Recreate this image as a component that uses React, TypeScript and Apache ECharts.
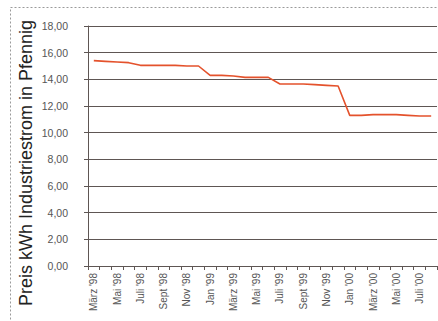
import React, { useEffect, useRef } from "react";
import * as echarts from "echarts";

const months = [
  "März '98", "Apr '98", "Mai '98", "Juni '98", "Juli '98", "Aug '98", "Sept '98", "Okt '98", "Nov '98", "Dez '98",
  "Jan '99", "Feb '99", "März '99", "Apr '99", "Mai '99", "Juni '99", "Juli '99", "Aug '99", "Sept '99", "Okt '99", "Nov '99", "Dez '99",
  "Jan '00", "Feb '00", "März '00", "Apr '00", "Mai '00", "Juni '00", "Juli '00", "Aug '00",
];
const prices = [
  15.4, 15.35, 15.3, 15.25, 15.05, 15.05, 15.05, 15.05, 15.0, 15.0,
  14.3, 14.3, 14.25, 14.15, 14.15, 14.15, 13.65, 13.65, 13.65, 13.6, 13.55, 13.5,
  11.3, 11.3, 11.35, 11.35, 11.35, 11.3, 11.25, 11.25,
];
const yTitle = "Preis kWh Industriestrom in Pfennig";

export default function App() {
  const ref = useRef<HTMLDivElement>(null);
  useEffect(() => {
    document.body.style.margin = "0";
    const chart = echarts.init(ref.current!, null, { renderer: "svg" });
    const gridColor = "#5e5654";
    chart.setOption({
      animation: false,
      backgroundColor: "#ffffff",
      textStyle: { fontFamily: "Liberation Sans, Arial, sans-serif" },
      grid: { left: 88, top: 26, right: 1, bottom: 55, containLabel: false },
      graphic: [
        {
          type: "rect",
          shape: { x: 10.5, y: 7.5, width: 440, height: 330 },
          style: { fill: "none", stroke: "#9a9a9a", lineWidth: 1, lineDash: [2, 2] },
          silent: true,
        },
        {
          type: "text",
          x: 26,
          y: 163,
          rotation: Math.PI / 2,
          style: {
            text: yTitle,
            font: "18px 'Liberation Sans', Arial, sans-serif",
            fill: "#222222",
            align: "center",
            verticalAlign: "middle",
          },
        },
      ],
      xAxis: {
        type: "category",
        data: months,
        boundaryGap: true,
        axisLine: { show: true, lineStyle: { color: gridColor, width: 1 } },
        axisTick: { show: true, interval: 0, length: 4, lineStyle: { color: gridColor } },
        axisLabel: {
          interval: 1,
          rotate: 90,
          fontSize: 10,
          color: "#555555",
          margin: 7,
        },
        splitLine: { show: false },
      },
      yAxis: {
        type: "value",
        min: 0,
        max: 18,
        interval: 2,
        axisLine: { show: true, lineStyle: { color: gridColor, width: 1 } },
        axisTick: { show: true, length: 4, lineStyle: { color: gridColor } },
        axisLabel: {
          fontSize: 10.5,
          color: "#555555",
          margin: 20,
          formatter: (v: number) => v.toFixed(2).replace(".", ","),
        },
        splitLine: { show: true, lineStyle: { color: gridColor, width: 1 } },
      },
      series: [
        {
          type: "line",
          data: prices,
          symbol: "none",
          lineStyle: { color: "#e4522c", width: 1.6 },
        },
      ],
    });
    return () => chart.dispose();
  }, []);
  return <div ref={ref} style={{ width: 438, height: 321 }} />;
}
